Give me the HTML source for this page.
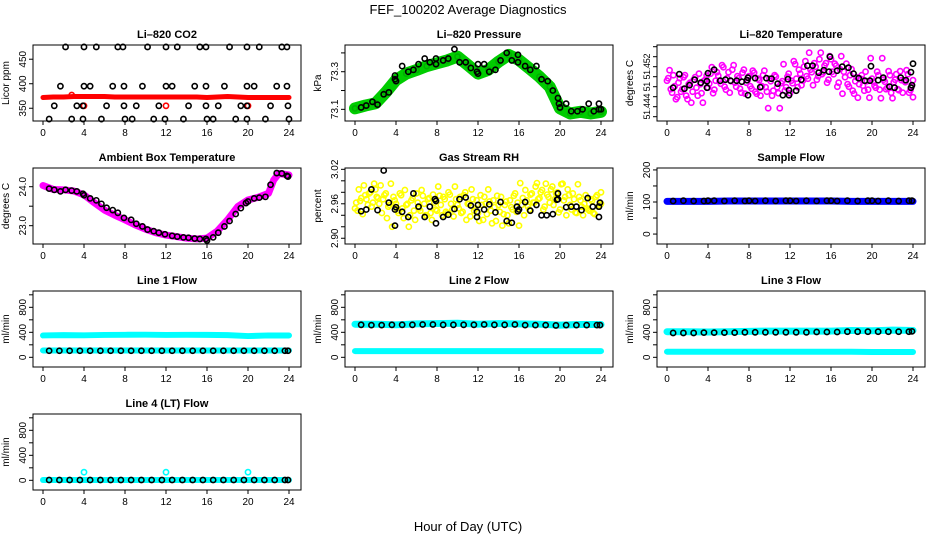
<!DOCTYPE html>
<html><head><meta charset="utf-8"><style>
html,body{margin:0;padding:0;background:#fff}
svg{display:block;font-family:"Liberation Sans",sans-serif}
</style></head><body>
<svg id="fig" width="936" height="540" viewBox="0 0 936 540" xmlns="http://www.w3.org/2000/svg">
<rect width="936" height="540" fill="#fff"/>
<text x="468" y="14" text-anchor="middle" font-size="13">FEF_100202  Average Diagnostics</text>
<text x="468" y="531" text-anchor="middle" font-size="13">Hour of Day (UTC)</text>
</svg>
<script>
// ---------- data ----------
const xTicks=[0,4,8,12,16,20,24];
// CO2
const co2BandHours=[0,1,2,3,4,5,6,7,8,9,10,11,12,13,14,15,16,17,18,19,20,21,22,23,24];
const co2BandVals=[372,373,373,374,374,374,374,373,373,373,373,373,373,373,373,373,372,373,374,373,372,372,372,372,372];
const co2RedHours=[4,12,20,2.8];
const co2RedVals=[355,355,355,377];
const co2Hours=[2.2,4.0,5.2,7.3,7.8,10.2,12.0,13.1,15.3,15.9,18.2,19.9,21.1,23.3,23.8,
1.7,4.0,4.6,6.8,7.9,9.7,12.0,12.6,14.8,15.9,17.7,19.9,20.6,22.8,23.8,
1.1,3.3,3.9,6.2,7.9,9.1,11.3,14.2,15.9,17.1,19.3,19.9,22.2,23.9,
0.6,2.8,3.9,5.7,8.0,8.7,10.8,11.9,13.7,16.0,16.6,18.8,19.9,21.7,24.0];
const co2Vals=[475,475,475,475,475,475,475,475,475,475,475,475,475,475,475,
395,395,395,395,395,395,395,395,395,395,395,395,395,395,395,
355,355,355,355,355,355,355,355,355,355,355,355,355,355,
328,328,328,328,328,328,328,328,328,328,328,328,328,328,328];
// Pressure
const presBandHours=[0,1,2,3,4,5,6,7,8,9,10,11,12,13,14,15,16,17,18,19,20,21,22,23,24];
const presBandVals=[73.105,73.12,73.132,73.19,73.256,73.29,73.309,73.33,73.345,73.36,73.38,73.336,73.29,73.31,73.353,73.389,73.362,73.318,73.273,73.22,73.105,73.078,73.087,73.078,73.087];
const presHours=[0.6,1.1,1.7,2.2,2.8,3.3,3.9,3.9,4.0,4.6,5.2,5.7,6.2,6.8,7.3,7.9,7.9,8.6,9.1,9.7,10.2,10.8,11.3,11.9,12.0,12.0,12.6,13.1,13.7,14.2,14.8,15.3,15.9,15.9,16.6,17.1,17.7,18.2,18.8,19.3,19.8,19.9,20.0,20.6,21.1,21.7,22.2,22.8,23.3,23.8,23.8,24.0];
const presVals=[73.11,73.12,73.14,73.125,73.18,73.19,73.26,73.28,73.25,73.33,73.3,73.31,73.34,73.37,73.35,73.37,73.34,73.36,73.37,73.42,73.35,73.35,73.32,73.3,73.34,73.29,73.34,73.3,73.31,73.36,73.4,73.36,73.39,73.35,73.33,73.31,73.33,73.26,73.25,73.2,73.16,73.13,73.11,73.13,73.09,73.09,73.1,73.13,73.09,73.1,73.13,73.1];
// Li-820 temperature
const tempScatter=[51.4492,51.4513,51.4468,51.4481,51.4459,51.4497,51.4475,51.4503,51.4455,51.4488,51.4470,51.4499,51.4462,51.4485,51.4448,51.4494,
51.4478,51.4506,51.4467,51.4492,51.4502,51.4486,51.4519,51.4474,51.4509,51.4491,51.4523,51.4480,51.4497,51.4468,51.4514,51.4488,
51.4501,51.4476,51.4508,51.4466,51.4493,51.4481,51.4512,51.4470,51.4496,51.4462,51.4503,51.4479,51.4437,51.4491,51.4472,51.4500,
51.4467,51.4487,51.4525,51.4479,51.4506,51.4492,51.4531,51.4496,51.4514,51.4483,51.4520,51.4501,51.4548,51.4509,51.4527,51.4494,
51.4535,51.4505,51.4522,51.4488,51.4541,51.4510,51.4526,51.4480,51.4515,51.4466,51.4499,51.4485,51.4503,51.4472,51.4491,51.4458,
51.4496,51.4482,51.4510,51.4474,51.4537,51.4490,51.4478,51.4503,51.4457,51.4494,51.4475,51.4511,51.4468,51.4489,51.4505,51.4473,51.4493];
const tempBlackHours=[0.6,1.2,1.7,2.2,2.7,3.3,3.9,3.9,4.0,4.6,5.2,5.7,6.2,6.8,7.3,7.8,7.9,7.9,8.6,9.1,9.7,10.2,10.8,11.3,11.8,11.9,11.9,12.6,13.1,13.7,14.2,14.8,15.3,15.8,15.9,16.6,17.1,17.7,18.2,18.7,19.3,19.8,19.9,20.6,21.1,21.7,22.2,22.8,23.3,23.8,23.8,23.9,24.0];
const tempBlackVals=[51.4478,51.4505,51.4476,51.4483,51.4494,51.4488,51.4491,51.4478,51.4507,51.4514,51.4492,51.4494,51.4492,51.4492,51.4490,51.4493,51.4463,51.4498,51.4497,51.4479,51.4497,51.4496,51.4486,51.4463,51.4495,51.4463,51.4473,51.4472,51.4494,51.4522,51.4522,51.4508,51.4513,51.4510,51.4540,51.4512,51.4520,51.4518,51.4506,51.4497,51.4492,51.4492,51.4521,51.4493,51.4498,51.4480,51.4478,51.4498,51.4493,51.4478,51.4509,51.4483,51.4526];
// Ambient box temperature
const ambBandHours=[0,1,2,3,4,5,6,7,8,9,10,11,12,13,14,15,16,17,18,19,20,21,22,22.5,23,24];
const ambBandVals=[24.03,23.93,23.92,23.89,23.79,23.59,23.40,23.27,23.15,23.02,22.91,22.82,22.76,22.72,22.68,22.66,22.68,22.86,23.15,23.49,23.66,23.73,23.83,24.17,24.34,24.30];
const ambHours=[0.6,1.1,1.7,2.2,2.8,3.3,3.9,4.0,4.6,5.2,5.7,6.2,6.8,7.3,7.9,8.6,9.1,9.7,10.2,10.8,11.3,11.9,12.6,13.1,13.7,14.2,14.8,15.3,15.9,16.0,16.6,17.1,17.7,18.2,18.8,19.3,19.8,20.0,20.6,21.1,21.7,22.2,22.8,23.3,23.8,23.9];
const ambVals=[23.95,23.92,23.88,23.92,23.9,23.88,23.82,23.78,23.7,23.65,23.56,23.46,23.4,23.33,23.2,23.15,23.05,22.98,22.9,22.86,22.82,22.78,22.74,22.72,22.7,22.69,22.67,22.66,22.66,22.62,22.7,22.82,22.98,23.12,23.3,23.45,23.58,23.62,23.7,23.72,23.74,24.05,24.35,24.34,24.28,24.26];
// Gas stream RH
const rhScatter=[2.952,2.948,2.965,2.942,2.975,2.958,2.980,2.962,2.985,2.970,2.992,2.968,2.978,2.955,2.995,2.972,
2.960,2.944,2.975,2.935,2.958,2.920,2.966,2.948,2.978,2.952,2.984,2.960,2.940,2.970,2.932,2.962,
2.948,2.974,2.940,2.968,2.944,2.976,2.950,2.990,2.958,2.972,2.946,2.980,2.960,2.938,2.968,2.952,
2.944,2.975,2.932,2.960,2.985,2.948,2.966,2.930,2.958,2.972,2.942,2.964,2.926,2.954,2.974,2.946,
2.922,2.958,2.940,2.966,2.950,2.978,2.962,2.996,2.970,2.984,2.955,2.976,2.962,2.990,2.968,2.980,
2.950,2.995,2.972,2.985,2.958,2.978,2.945,2.994,2.966,2.940,2.975,2.950,2.968,2.944,2.972,2.955,2.960];
const rhBlackHours=[0.6,1.1,1.6,2.2,2.8,3.3,3.9,3.9,4.0,4.6,5.2,5.7,6.2,6.8,7.3,7.8,7.9,7.9,8.6,9.1,9.7,10.2,10.8,11.3,11.9,11.9,12.0,12.6,13.1,13.7,14.2,14.8,15.3,15.8,15.9,16.0,16.6,17.1,17.7,18.2,18.7,19.3,19.7,19.8,19.8,20.6,21.1,21.6,22.1,22.7,23.2,23.8,23.8,23.9];
const rhBlackVals=[2.947,2.950,2.985,2.949,3.018,2.962,2.950,2.922,2.954,2.946,2.937,2.978,2.955,2.937,2.955,2.968,2.926,2.965,2.937,2.941,2.951,2.968,2.971,2.957,2.946,2.937,2.958,2.950,2.959,2.945,2.963,2.930,2.927,2.955,2.947,2.950,2.963,2.948,2.958,2.940,2.940,2.942,2.967,2.968,2.978,2.954,2.955,2.955,2.949,2.970,2.955,2.937,2.955,2.962];
// Sample flow
const sampleBandHours=[0,2,4,6,8,10,12,14,16,18,20,22,24];
const sampleBandVals=[102,102,102,103,103,103,103,103,103,102,102,102,102];
const sampleHours=[0.6,1.6,2.6,3.6,4.0,4.6,5.6,6.6,7.6,8.0,8.6,9.6,10.6,11.6,12.0,12.6,13.6,14.6,15.6,16.0,16.6,17.6,18.6,19.6,20.0,20.6,21.6,22.6,23.6,23.9];
const sampleVals=[103,104,103,103,104,104,103,104,103,104,103,104,103,104,104,103,104,103,104,104,103,104,103,104,104,103,104,103,104,104];
// Line flows
const flowHours=[0.6,1.6,2.6,3.6,4.6,5.6,6.6,7.6,8.6,9.6,10.6,11.6,12.6,13.6,14.6,15.6,16.6,17.6,18.6,19.6,20.6,21.6,22.6,23.6,23.9];
const bandHours=[0,2,4,6,8,10,12,14,16,18,20,22,24];
const line1Cyan=[350,355,352,358,360,362,358,360,360,355,340,350,350];
const line1CyanLow=[110,110,110,110,110,110,110,110,110,110,110,110,110];
const line1Black=[105,105,105,105,105,105,105,105,105,105,105,105,105,105,105,105,105,105,105,105,105,105,105,105,105];
const line2Cyan=[530,530,520,535,540,545,530,540,535,530,515,525,525];
const line2CyanLow=[100,100,100,100,100,100,100,100,100,100,100,100,100];
const line2Black=[520,515,515,520,520,520,525,525,520,520,520,520,525,520,520,525,515,515,515,510,515,515,515,515,515];
const line3Cyan=[410,410,405,410,415,420,420,420,420,430,425,435,430];
const line3CyanLow=[90,90,90,90,90,90,90,90,90,90,85,85,85];
const line3Black=[390,390,390,395,395,395,395,400,400,400,400,400,400,400,405,405,405,410,410,410,410,410,410,410,415];
const line4Cyan=[5,5,5,5,5,5,5,5,5,5,5,5,5];
const line4CyanHours=[4,12,20];
const line4CyanSpikes=[130,130,130];
const line4Black=[5,5,5,5,5,5,5,5,5,5,5,5,5,5,5,5,5,5,5,5,5,5,5,5,5];

// ---------- drawing ----------
const NS='http://www.w3.org/2000/svg';
const svg=document.getElementById('fig');
const COLS=[33,345,657], ROWS=[45,168,291,414], W=268, H=76;
function mk(tag,attrs,parent){const e=document.createElementNS(NS,tag);for(const k in attrs)e.setAttribute(k,attrs[k]);(parent||svg).appendChild(e);return e;}

function panel(col,row,name,title,ylab,yLo,yHi,ticks,labels){
  const bx=COLS[col],by=ROWS[row];
  const g=mk('g',{});
  
  
  const xs=h=>bx+10+h*10.25;
  const ys=v=>by+H-(v-yLo)/(yHi-yLo)*H;
  const t=mk('text',{x:bx+W/2,y:by-7,'text-anchor':'middle','font-size':11,'font-weight':'bold'},g);t.textContent=title;
  
  
  const yl=mk('text',{x:0,y:0,'text-anchor':'middle','font-size':10,transform:`translate(${bx-24},${by+H/2}) rotate(-90)`},g);yl.textContent=ylab;
  
  
  const xa=mk('g',{},g);
  
  
  xTicks.forEach(h=>{mk('line',{x1:xs(h),x2:xs(h),y1:by+H,y2:by+H+4,stroke:'#000'},xa);
    const l=mk('text',{x:xs(h),y:by+H+15,'text-anchor':'middle','font-size':10},xa);l.textContent=h;});
  const ya=mk('g',{},g);
  
  
  ticks.forEach(v=>{mk('line',{x1:bx-4,x2:bx,y1:ys(v),y2:ys(v),stroke:'#000'},ya);});
  labels.forEach(v=>{const l=mk('text',{x:0,y:0,'text-anchor':'middle','font-size':10,transform:`translate(${bx-7},${ys(v)}) rotate(-90)`},ya);
    l.textContent=(typeof v==='number'&&!Number.isInteger(v))?v.toFixed(String(v).split('.')[1].length):v;});
  const clip=mk('g',{},g);
  return {g:clip,xs,ys,bx,by,frame:()=>mk('rect',{x:bx,y:by,width:W,height:H,fill:'none',stroke:'#000','stroke-width':1},g)};
}
function band(p,hours,vals,color,w,name){
  const pl=mk('polyline',{points:hours.map((h,i)=>p.xs(h)+','+p.ys(vals[i])).join(' '),fill:'none',stroke:color,'stroke-width':w,'stroke-linejoin':'round','stroke-linecap':'round'},p.g);
  
  
}
function pts(p,hours,vals,color,name,r){
  const g=mk('g',{},p.g);
  
  
  hours.forEach((h,i)=>mk('circle',{cx:p.xs(h),cy:p.ys(vals[i]),r:r||2.6,fill:'none',stroke:color,'stroke-width':1.6},g));
}
const evenHours=n=>Array.from({length:n},(_,i)=>i*24/(n-1));

// Panel 1 CO2
let p=panel(0,0,'co2','Li\u2013820 CO2','Licor ppm',324,479,[350,400,450],[350,400,450]);
band(p,co2BandHours,co2BandVals,'#ff0000',5,'co2-red-band');
pts(p,co2RedHours,co2RedVals,'#ff0000','co2-red-points');
pts(p,co2Hours,co2Vals,'#000','co2-black-points');p.frame();
// Panel 2 Pressure
p=panel(1,0,'pressure','Li\u2013820 Pressure','kPa',73.038,73.442,[73.1,73.2,73.3,73.4],[73.1,73.3]);
band(p,presBandHours,presBandVals,'#00cc00',12,'pressure-green-band');
pts(p,presBandHours,presBandVals,'#00b000','pressure-green-points');
pts(p,presHours,presVals,'#000','pressure-black-points');p.frame();
// Panel 3 Temp
p=panel(2,0,'li820-temp','Li\u2013820 Temperature','degrees C',51.44114,51.45634,[51.442,51.444,51.446,51.448,51.45,51.452,51.454,51.456],[]);
[['51.444',51.444],['51',51.448],['51.452',51.452]].forEach(([s,v])=>{const l=mk('text',{x:0,y:0,'text-anchor':'middle','font-size':9,'letter-spacing':'-0.3',transform:`translate(${p.bx-7},${p.ys(v)}) rotate(-90)`});l.textContent=s;
  
  });
pts(p,evenHours(tempScatter.length),tempScatter,'#ff00ff','li820-temp-magenta-points');
pts(p,evenHours(tempScatter.length).map(h=>Math.min(24,h+0.12)),tempScatter.slice(5).concat(tempScatter.slice(0,5)),'#ff00ff','li820-temp-magenta-points-2');
pts(p,tempBlackHours,tempBlackVals,'#000','li820-temp-black-points');p.frame();
// Panel 4 Ambient
p=panel(0,1,'ambient','Ambient Box Temperature','degrees C',22.53,24.48,[23.0,23.5,24.0],['23.0','24.0']);
band(p,ambBandHours,ambBandVals,'#ff00ff',7,'ambient-magenta-band');
pts(p,ambHours,ambVals,'#000','ambient-black-points');p.frame();
// Panel 5 RH
p=panel(1,1,'gas-rh','Gas Stream RH','percent',2.890,3.0223,[2.90,2.92,2.94,2.96,2.98,3.00,3.02],['2.90','2.96','3.02']);
pts(p,evenHours(rhScatter.length),rhScatter,'#ffff00','gas-rh-yellow-points');
pts(p,evenHours(rhScatter.length).map(h=>Math.min(24,h+0.12)),rhScatter.slice(7).concat(rhScatter.slice(0,7)),'#ffff00','gas-rh-yellow-points-2');
pts(p,rhBlackHours,rhBlackVals,'#000','gas-rh-black-points');p.frame();
// Panel 6 Sample flow
p=panel(2,1,'sample-flow','Sample Flow','ml/min',-31,206,[0,50,100,150,200],[0,100,200]);
band(p,sampleBandHours,sampleBandVals,'#0000ff',7,'sample-flow-blue-band');
pts(p,sampleHours,sampleVals,'#000','sample-flow-black-points');p.frame();
// Flow panels
const fT=[0,200,400,600,800,1000],fL=[0,400,800];
p=panel(0,2,'line1','Line 1 Flow','ml/min',-155,1061,fT,fL);
band(p,bandHours,line1Cyan,'#00ffff',6,'line1-cyan-band');
band(p,bandHours,line1CyanLow,'#00ffff',6,'line1-cyan-low-band');
pts(p,flowHours,line1Black,'#000','line1-black-points');p.frame();
p=panel(1,2,'line2','Line 2 Flow','ml/min',-155,1061,fT,fL);
band(p,bandHours,line2Cyan,'#00ffff',7,'line2-cyan-band');
band(p,bandHours,line2CyanLow,'#00ffff',6,'line2-cyan-low-band');
pts(p,flowHours,line2Black,'#000','line2-black-points');p.frame();
p=panel(2,2,'line3','Line 3 Flow','ml/min',-155,1061,fT,fL);
band(p,bandHours,line3Cyan,'#00ffff',7,'line3-cyan-band');
band(p,bandHours,line3CyanLow,'#00ffff',6,'line3-cyan-low-band');
pts(p,flowHours,line3Black,'#000','line3-black-points');p.frame();
p=panel(0,3,'line4','Line 4 (LT) Flow','ml/min',-155,1061,fT,fL);
band(p,bandHours,line4Cyan,'#00ffff',6,'line4-cyan-band');
pts(p,line4CyanHours,line4CyanSpikes,'#00ffff','line4-cyan-spikes');
pts(p,flowHours,line4Black,'#000','line4-black-points');p.frame();
</script>
</body></html>
